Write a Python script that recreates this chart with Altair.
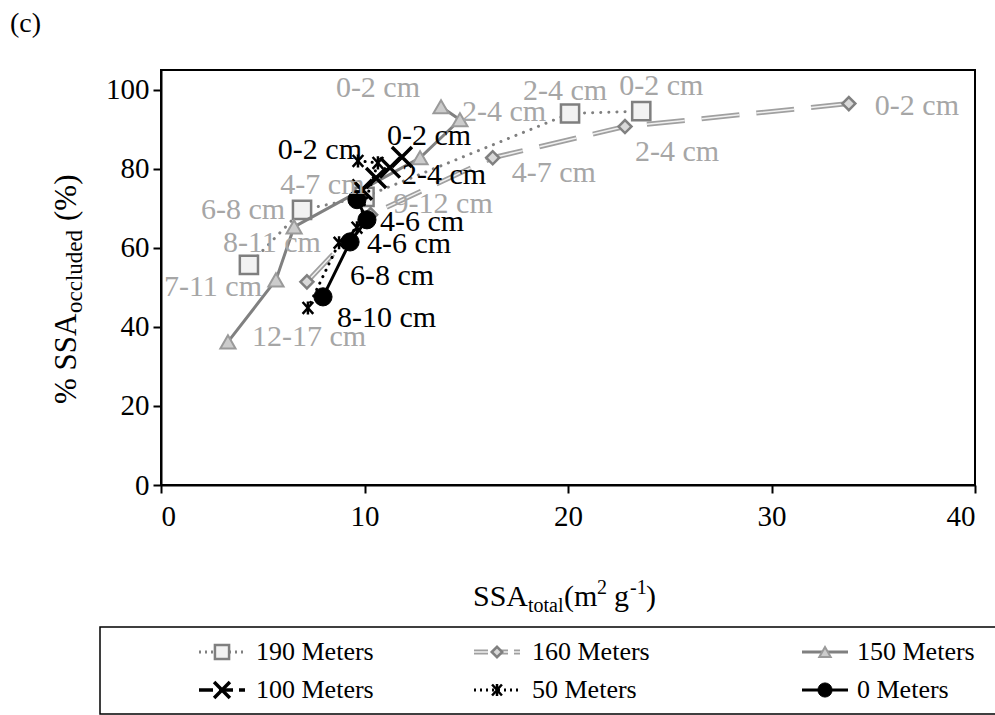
import altair as alt
import pandas as pd

# ---------------- data ----------------
series_names = ["190 Meters", "160 Meters", "150 Meters", "100 Meters", "50 Meters", "0 Meters"]

x190 = [23.6, 20.1, 10.0, 6.93, 4.32]
y190 = [94.6, 94.0, 72.9, 69.6, 55.7]
lab190 = ["0-2 cm", "2-4 cm", "4-7 cm", "6-8 cm", "8-11 cm"]

x160 = [33.8, 22.8, 16.3, 10.3, 7.17]
y160 = [96.5, 90.7, 82.8, 68.4, 51.4]
lab160 = ["0-2 cm", "2-4 cm", "4-7 cm", "9-12 cm", ""]

x150 = [13.76, 14.69, 12.73, 6.54, 5.65, 3.29]
y150 = [95.7, 92.4, 82.8, 65.3, 51.9, 36.2]
lab150 = ["0-2 cm", "2-4 cm", "", "", "7-11 cm", "12-17 cm"]

x100 = [11.84, 11.25, 10.57, 9.88]
y100 = [83.0, 80.3, 77.7, 74.7]
lab100 = ["0-2 cm", "2-4 cm", "", ""]

x50 = [9.68, 10.66, 9.63, 8.75, 7.22]
y50 = [82.0, 81.5, 65.1, 61.3, 44.8]
lab50 = ["0-2 cm", "", "", "6-8 cm", ""]

x0 = [9.63, 10.12, 9.29, 7.96]
y0 = [72.2, 67.1, 61.5, 47.6]
lab0 = ["", "4-6 cm", "4-6 cm", "8-10 cm"]

x_ticks = [0, 10, 20, 30, 40]
y_ticks = [0, 20, 40, 60, 80, 100]

# ---------------- layout / style ----------------
FONT = "Liberation Serif"
W, H = 814, 415
PAD_L, PAD_T = 161, 70
GRAY_TXT = "#a6a6a6"

X_PATH = "M-1,-1L1,1M-1,1L1,-1"
AST_PATH = "M-0.9,-1L0.9,1M-0.9,1L0.9,-1M0,-1.1L0,1.1"

styles = {
    "190 Meters": dict(lines=[dict(color="#808080", strokeWidth=3, strokeDash=[0.1, 8], strokeCap="round")],
                       pt=dict(shape="square", size=330, filled=True, fill="#f2f2f2", stroke="#7f7f7f", strokeWidth=2.5),
                       lsize=200, tcolor=GRAY_TXT),
    "160 Meters": dict(lines=[dict(color="#a0a0a0", strokeWidth=5, strokeDash=[38, 17]),
                              dict(color="#f0f0f0", strokeWidth=1.5, strokeDash=[38, 17])],
                       pt=dict(shape="diamond", size=170, filled=True, fill="#d9d9d9", stroke="#808080", strokeWidth=2.5),
                       lsize=110, tcolor=GRAY_TXT),
    "150 Meters": dict(lines=[dict(color="#808080", strokeWidth=3)],
                       pt=dict(shape="triangle-up", size=230, filled=True, fill="#cccccc", stroke="#9a9a9a", strokeWidth=2),
                       lsize=130, tcolor=GRAY_TXT),
    "100 Meters": dict(lines=[dict(color="black", strokeWidth=3.5, strokeDash=[10, 5])],
                       pt=dict(shape=X_PATH, size=400, filled=False, stroke="black", strokeWidth=3.5),
                       lsize=250, tcolor="black"),
    "50 Meters": dict(lines=[dict(color="black", strokeWidth=3, strokeDash=[0.1, 7], strokeCap="round")],
                      pt=dict(shape=AST_PATH, size=140, filled=False, stroke="black", strokeWidth=2.5),
                      lsize=120, tcolor="black"),
    "0 Meters": dict(lines=[dict(color="black", strokeWidth=3)],
                     pt=dict(shape="circle", size=330, filled=True, fill="black", stroke="black", strokeWidth=1),
                     lsize=200, tcolor="black"),
}

# label offsets: (index, align, dx, dy)
label_pos = {
    "190 Meters": [(0, "center", 20, -25), (1, "center", -5, -22), (2, "right", 0, -12),
                   (3, "right", -17, 0), (4, "center", 23, -22)],
    "160 Meters": [(0, "left", 26, 2), (1, "left", 10, 25), (2, "left", 19, 15), (3, "left", 23, -11)],
    "150 Meters": [(0, "right", -21, -19), (1, "left", 2, -8), (4, "right", -14, 7), (5, "left", 24, -5)],
    "100 Meters": [(0, "left", -15, -21), (1, "left", 12, 7)],
    "50 Meters": [(0, "right", 4, -11), (3, "left", 11, 33)],
    "0 Meters": [(1, "left", 13, 2), (2, "left", 17, 2), (3, "left", 14, 21)],
}

legend_pos = {  # symbol centre x, text x, row y (absolute px)
    "190 Meters": (222, 256, 652), "160 Meters": (497, 532, 652), "150 Meters": (825, 857, 652),
    "100 Meters": (222, 256, 690), "50 Meters": (497, 532, 690), "0 Meters": (825, 857, 690),
}

raw = {
    "190 Meters": (x190, y190, lab190), "160 Meters": (x160, y160, lab160),
    "150 Meters": (x150, y150, lab150), "100 Meters": (x100, y100, lab100),
    "50 Meters": (x50, y50, lab50), "0 Meters": (x0, y0, lab0),
}

xscale = alt.Scale(domain=[0, 40], nice=False, zero=False)
yscale = alt.Scale(domain=[0, 105], nice=False, zero=False)
axis_common = dict(grid=False, domainColor="black", domainWidth=2, tickColor="black", tickWidth=2,
                   tickSize=8, labelFont=FONT, labelFontSize=29, labelColor="black", title=None)
xaxis = alt.Axis(values=x_ticks, labelPadding=9, **axis_common)
yaxis = alt.Axis(values=y_ticks, labelPadding=4, **axis_common)

dummy = pd.DataFrame({"k": [0]})


def ax(v):
    return alt.value(v - PAD_L)


def ay(v):
    return alt.value(v - PAD_T)


def XE():
    return alt.X("x:Q", scale=xscale, axis=xaxis)


def YE():
    return alt.Y("y:Q", scale=yscale, axis=yaxis)


layers = []
for name in series_names:
    xs, ys, labs = raw[name]
    df = pd.DataFrame({"x": xs, "y": ys, "label": labs, "i": list(range(len(xs))), "series": name})
    st = styles[name]
    for ln in st["lines"]:
        layers.append(alt.Chart(df).mark_line(**ln).encode(x=XE(), y=YE(), order=alt.Order("i:Q")))
    layers.append(alt.Chart(df).mark_point(opacity=1, **st["pt"]).encode(x=XE(), y=YE()))

# data labels on top
for name in series_names:
    xs, ys, labs = raw[name]
    st = styles[name]
    for (i, align, dx, dy) in label_pos[name]:
        d = pd.DataFrame({"x": [xs[i]], "y": [ys[i]], "label": [labs[i]]})
        layers.append(alt.Chart(d).mark_text(align=align, baseline="middle", dx=dx, dy=dy, font=FONT,
                                             fontSize=30, color=st["tcolor"]).encode(
            x=XE(), y=YE(), text="label:N"))

# panel letter
layers.append(alt.Chart(dummy).mark_text(align="left", baseline="middle", font=FONT, fontSize=28, color="black")
              .encode(x=ax(10), y=ay(24), text=alt.value("(c)")))

# x-axis title: SSA_total(m^2 g^-1)
xb = 606
xt_parts = [("SSA", 30, 473, 0), ("total", 20, 528, 6), ("(m", 30, 564, 0), ("2", 20, 597, -12),
            ("g", 30, 614, 0), ("-1", 20, 630, -12), (")", 30, 646, 0)]
for txt, fs, px, off in xt_parts:
    layers.append(alt.Chart(dummy).mark_text(align="left", baseline="alphabetic", font=FONT, fontSize=fs,
                                             color="black")
                  .encode(x=ax(px), y=ay(xb + off), text=alt.value(txt)))

# y-axis title: % SSA_occluded (%)
yx = 76
yt_parts = [("% SSA", 31, 404, 0), ("occluded", 23, 313, 6), ("(%)", 31, 221, 0)]
for txt, fs, py, off in yt_parts:
    layers.append(alt.Chart(dummy).mark_text(align="left", baseline="alphabetic", angle=270, font=FONT,
                                             fontSize=fs, color="black")
                  .encode(x=ax(yx + off), y=ay(py), text=alt.value(txt)))

# legend box
layers.append(alt.Chart(dummy).mark_rect(fill="white", fillOpacity=0, stroke="black", strokeWidth=1.5)
              .encode(x=ax(100), x2=ax(1000), y=ay(627), y2=ay(714)))

# legend entries
for name in series_names:
    sx, tx, ry = legend_pos[name]
    st = styles[name]
    for ln in st["lines"]:
        kw = dict(ln)
        col = kw.pop("color")
        kw.pop("strokeCap", None)
        dash = kw.pop("strokeDash", None)
        if dash is not None and dash[0] < 1:
            dash = [2, 4]
        elif dash is not None:
            dash = [14, 6]
        mk = dict(color=col, strokeWidth=kw["strokeWidth"])
        if dash is not None:
            mk["strokeDash"] = dash
        layers.append(alt.Chart(dummy).mark_rule(**mk).encode(
            x=ax(sx - 23), x2=ax(sx + 23), y=ay(ry)))
    pt = dict(st["pt"])
    pt["size"] = st["lsize"]
    layers.append(alt.Chart(dummy).mark_point(opacity=1, **pt).encode(x=ax(sx), y=ay(ry)))
    layers.append(alt.Chart(dummy).mark_text(align="left", baseline="middle", font=FONT, fontSize=26,
                                             color="black")
                  .encode(x=ax(tx), y=ay(ry), text=alt.value(name)))

chart = alt.layer(*layers).properties(
    width=W, height=H,
    autosize=alt.AutoSizeParams(type="none"),
    padding={"left": PAD_L, "top": PAD_T, "right": 995 - PAD_L - W, "bottom": 715 - PAD_T - H},
    background="white",
).configure_view(stroke="black", strokeWidth=2)

chart.save("out.html", embed_options={"renderer": "svg", "actions": False})
